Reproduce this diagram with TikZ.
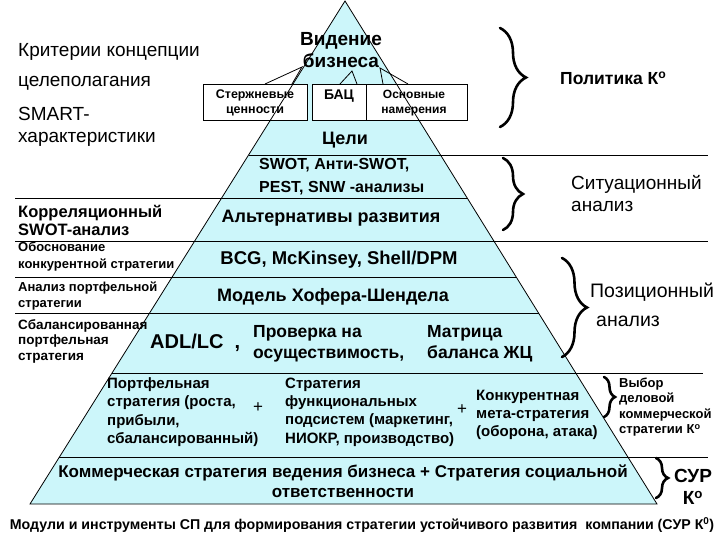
\documentclass[tikz,border=0pt]{standalone}
\usepackage{fontspec}
\setmainfont{Liberation Sans}
\usetikzlibrary{decorations.pathreplacing}

\definecolor{pyrfill}{RGB}{204,246,250}

\tikzset{
  tr/.style 2 args={font=\fontsize{#1}{#2}\selectfont, inner sep=0pt},
  tb/.style 2 args={font=\fontsize{#1}{#2}\selectfont\bfseries, inner sep=0pt},
  curly/.style={decorate, decoration={brace, amplitude=#1}, line width=2.6pt, line cap=round},
  rule/.style={line width=0.8pt},
}

\begin{document}
\begin{tikzpicture}[x=1pt, y=-1pt]
  \path[use as bounding box] (0,0) rectangle (720,540);

  % pyramid body
  \coordinate (apex) at (345,1);
  \coordinate (bl) at (30,504);
  \coordinate (br) at (657,504);
  \fill[pyrfill] (apex) -- (bl) -- (br) -- cycle;

  % boxes under the vision
  \draw[rule, fill=white] (203,84) rectangle (307,120);
  \draw[rule, fill=white] (312,84) rectangle (366,120);
  \draw[rule, fill=white] (366,84) rectangle (467,120);
  \draw[rule] (265,84) -- (302,67) -- (292,84);
  \draw[rule] (340,84) -- (352,71) -- (357,84);
  \draw[rule] (383,84) -- (380,68) -- (408,84);

  \draw[rule] (apex) -- (bl) -- (br) -- cycle;

  % layers
  \draw[rule] (248.6,155) -- (708,155);
  \draw[rule] (15,198) -- (467.2,198);
  \draw[rule] (15,241) -- (708,241);
  \draw[rule] (15,277) -- (516.2,277);
  \draw[rule] (15,313) -- (538.5,313);
  \draw[rule] (112,373) -- (703,373);
  \draw[rule] (59.4,457) -- (708,457);

  % left column
  \node[tr={19}{22}, anchor=west] (crit) at (18,52) {Критерии концепции};
  \node[tr={19}{22}, anchor=west] (goal) at (18,83) {целеполагания};
  \node[tr={19}{22}, anchor=west, align=left] (smart) at (18,127) {SMART-\\характеристики};
  \node[tb={16.5}{18}, anchor=west, align=left] (corr) at (18,220) {Корреляционный\\SWOT-анализ};
  \node[tb={13}{17}, anchor=west, align=left] (just) at (18,257) {Обоснование\\конкурентной стратегии};
  \node[tb={13}{16}, anchor=west, align=left] (anal) at (18,296) {Анализ портфельной\\стратегии};
  \node[tb={13.5}{15.5}, anchor=west, align=left] (bal) at (18,341) {Сбалансированная\\портфельная\\стратегия};

  % pyramid texts
  \node[tb={19}{22}, align=center] (vis) at (341,50) {Видение\\бизнеса};
  \node[tb={12.5}{15}, align=center] (core) at (255,103) {Стержневые\\ценности};
  \node[tb={14}{16}] (bac) at (339,96) {БАЦ};
  \node[tb={12}{15}, align=center] (intent) at (414,103) {Основные\\намерения};
  \node[tb={18}{20}] (goals) at (345,140) {Цели};
  \node[tb={16}{23}, anchor=west, align=left] (swot) at (259,177) {SWOT, Анти-SWOT,\\PEST, SNW -анализы};
  \node[tb={18}{20}] (alt) at (331,218) {Альтернативы развития};
  \node[tb={18.5}{20}] (bcg) at (339,260) {BCG, McKinsey, Shell/DPM};
  \node[tb={18}{20}] (hofer) at (333,297) {Модель Хофера-Шендела};
  \node[tb={20}{20}, anchor=west] (adl) at (150,343) {ADL/LC\ \ ,};
  \node[tb={17.5}{21}, anchor=west, align=left] (check) at (253,344) {Проверка на\\осуществимость,};
  \node[tb={17.5}{21}, anchor=west, align=left] (matrix) at (427,344) {Матрица\\баланса ЖЦ};
  \node[tb={15}{18.3}, anchor=west, align=left] (port) at (107,412) {Портфельная\\стратегия (роста,\\прибыли,\\сбалансированный)};
  \node[tr={17}{18}] (plus1) at (258,408) {+};
  \node[tb={15}{18.3}, anchor=west, align=left] (func) at (285,412) {Стратегия\\функциональных\\подсистем (маркетинг,\\НИОКР, производство)};
  \node[tr={17}{18}] (plus2) at (462,410) {+};
  \node[tb={15}{18.3}, anchor=west, align=left] (comp) at (476,415) {Конкурентная\\мета-стратегия\\(оборона, атака)};
  \node[tb={17}{20}, align=center] (comm) at (343,481) {Коммерческая стратегия ведения бизнеса + Стратегия социальной\\ответственности};

  % braces and right column
  \draw[curly=26] (500,28) -- (500,127);
  \draw[curly=20] (503,158) -- (503,230);
  \draw[curly=25] (562,258) -- (562,357);
  \draw[curly=11] (604,377) -- (604,417);
  \draw[curly=12] (656,458) -- (656,498);
  \node[tb={17.5}{20}, anchor=west] (policy) at (560,78) {Политика К\textsuperscript{о}};
  \node[tr={19}{22}, anchor=west, align=left] (situ) at (571,194) {Ситуационный\\анализ};
  \node[tr={19.5}{22}, anchor=west] (pos) at (590,292) {Позиционный};
  \node[tr={19.5}{22}, anchor=west] (posb) at (596,321) {анализ};
  \node[tb={13}{15.5}, anchor=west, align=left] (choice) at (619,407) {Выбор\\деловой\\коммерческой\\стратегии К\textsuperscript{о}};
  \node[tb={19}{22}, align=center] (sur) at (693,487) {СУР\\К\textsuperscript{о}};

  % caption
  \node[tb={14.2}{16}] (caption) at (362,525) {Модули и инструменты СП для формирования стратегии устойчивого развития\ \ компании (СУР К\textsuperscript{0})};
\end{tikzpicture}
\end{document}
